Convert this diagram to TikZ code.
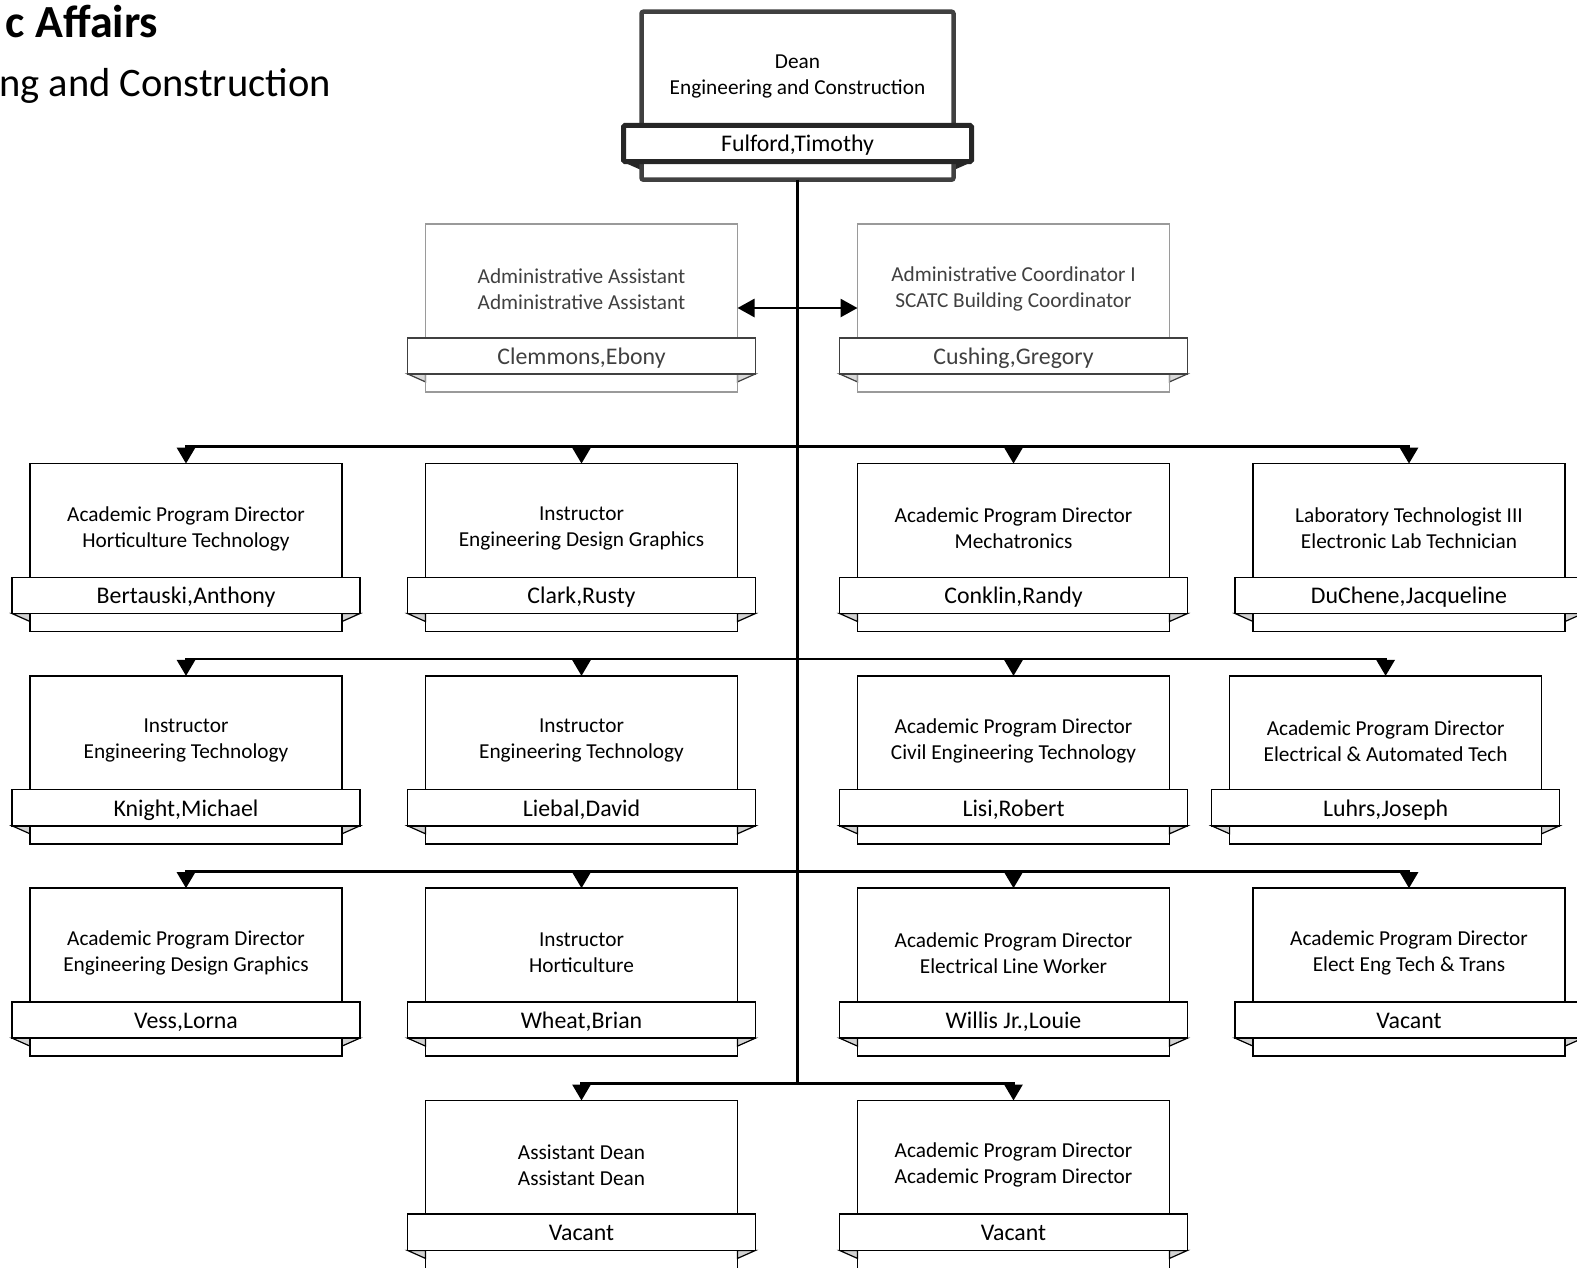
\documentclass[tikz,border=0pt]{standalone}
\usepackage{fontspec}
\setmainfont{Carlito}
\usepackage{tikz}
\usetikzlibrary{arrows.meta,positioning,calc}

\definecolor{asstgray}{HTML}{9A9A9A}
\definecolor{asstdark}{HTML}{404040}
\definecolor{deangray}{HTML}{404040}
\definecolor{deanblack}{HTML}{262626}

\begin{document}
\begin{tikzpicture}[
    x=1pt, y=1pt,
    post/.style={draw, line width=1.6pt, minimum width=312pt, minimum height=129.8pt, inner sep=0pt, outer sep=0pt, align=center, font=\fontsize{21.3}{26}\selectfont},
    fold/.style={draw=black, fill=gray!35, line width=1.2pt},
    tail/.style={draw=black, line width=1.6pt},
    band/.style={draw, fill=white, line width=1.6pt, minimum width=348pt, minimum height=36.2pt, inner sep=0pt, outer sep=0pt,
        text height=16.8pt, text depth=0pt, font=\fontsize{23.85}{26}\selectfont,
        append after command={\pgfextra{
            \draw[fold] (\tikzlastnode.south west) -- ++(18pt,-8pt) -- ++(0,8pt) -- cycle;
            \draw[fold] (\tikzlastnode.south east) -- ++(-18pt,-8pt) -- ++(0,8pt) -- cycle;
            \draw[tail] ([xshift=18pt]\tikzlastnode.south west) -- ++(0,-18.1pt) -| ([xshift=-18pt]\tikzlastnode.south east);
        }}},
    conn/.style={line width=2.8pt, -{Triangle[length=16pt,width=18pt]}},
    link/.style={line width=2.8pt, {Triangle[length=17pt,width=18pt]}-{Triangle[length=17pt,width=18pt]}},
    trunk/.style={line width=3.5pt}
]
    \useasboundingbox (0,0) rectangle (1577,-1267);

    % Heading
    \node[anchor=base east, inner sep=0pt, font=\bfseries\fontsize{46}{54}\selectfont] (head) at (158.5,-37) {c Affairs};
    \node[anchor=base west, inner sep=0pt, font=\fontsize{40.5}{48}\selectfont] (subhead) at (-1,-96.7) {ng and Construction};

    % Dean
    \begin{scope}[fold/.style={draw=deanblack, fill=deanblack, line width=1pt},
                  tail/.style={draw=deangray, line width=4.5pt, rounded corners=2pt}]
        \node[post, anchor=north, draw=deangray, line width=4.5pt, rounded corners=2pt] (dean) at (797.5,-11.7) {Dean\\Engineering and Construction};
        \node[band, below=-16.1pt of dean.south, draw=deanblack, line width=5pt, rounded corners=1.5pt] (deanN) {Fulford,Timothy};
    \end{scope}

    % Staff
    \begin{scope}[fold/.style={draw=asstdark, fill=gray!30, line width=1.2pt},
                  tail/.style={draw=asstgray, line width=1.6pt}]
        \node[post, below=82.5pt of dean, xshift=-216pt, draw=asstgray, text=asstdark] (clemmons) {Administrative Assistant\\Administrative Assistant};
        \node[band, below=-16.1pt of clemmons.south, draw=asstdark, text=asstdark] (clemmonsN) {Clemmons,Ebony};
        \node[post, below=82.5pt of dean, xshift=216pt, draw=asstgray, text=asstdark] (cushing) {Administrative Coordinator I\\SCATC Building Coordinator};
        \node[band, below=-16.1pt of cushing.south, draw=asstdark, text=asstdark] (cushingN) {Cushing,Gregory};
    \end{scope}

    % Row 1
    \node[post, below=109.8pt of clemmons] (clark) {Instructor\\Engineering Design Graphics};
    \node[post, below=109.8pt of cushing] (conklin) {Academic Program Director\\Mechatronics};
    \node[post, left=83.5pt of clark] (bertauski) {Academic Program Director\\Horticulture Technology};
    \node[post, right=83.5pt of conklin] (duchene) {Laboratory Technologist III\\Electronic Lab Technician};
    \node[band, below=-16.1pt of bertauski.south] (bertauskiN) {Bertauski,Anthony};
    \node[band, below=-16.1pt of clark.south] (clarkN) {Clark,Rusty};
    \node[band, below=-16.1pt of conklin.south] (conklinN) {Conklin,Randy};
    \node[band, below=-16.1pt of duchene.south] (ducheneN) {DuChene,Jacqueline};

    % Row 2
    \node[post, below=82.5pt of bertauski] (knight) {Instructor\\Engineering Technology};
    \node[post, below=82.5pt of clark] (liebal) {Instructor\\Engineering Technology};
    \node[post, below=82.5pt of conklin] (lisi) {Academic Program Director\\Civil Engineering Technology};
    \node[post, below=82.5pt of duchene, xshift=-23.4pt] (luhrs) {Academic Program Director\\Electrical \& Automated Tech};
    \node[band, below=-16.1pt of knight.south] (knightN) {Knight,Michael};
    \node[band, below=-16.1pt of liebal.south] (liebalN) {Liebal,David};
    \node[band, below=-16.1pt of lisi.south] (lisiN) {Lisi,Robert};
    \node[band, below=-16.1pt of luhrs.south] (luhrsN) {Luhrs,Joseph};

    % Row 3
    \node[post, below=82.5pt of knight] (vess) {Academic Program Director\\Engineering Design Graphics};
    \node[post, below=82.5pt of liebal] (wheat) {Instructor\\Horticulture};
    \node[post, below=82.5pt of lisi] (willis) {Academic Program Director\\Electrical Line Worker};
    \node[post, below=82.5pt of luhrs, xshift=23.4pt] (eetVacant) {Academic Program Director\\Elect Eng Tech \& Trans};
    \node[band, below=-16.1pt of vess.south] (vessN) {Vess,Lorna};
    \node[band, below=-16.1pt of wheat.south] (wheatN) {Wheat,Brian};
    \node[band, below=-16.1pt of willis.south] (willisN) {Willis Jr.,Louie};
    \node[band, below=-16.1pt of eetVacant.south] (eetVacantN) {Vacant};

    % Row 4
    \node[post, below=82.5pt of wheat] (asstDean) {Assistant Dean\\Assistant Dean};
    \node[post, below=82.5pt of willis] (apdVacant) {Academic Program Director\\Academic Program Director};
    \node[band, below=-16.1pt of asstDean.south] (asstDeanN) {Vacant};
    \node[band, below=-16.1pt of apdVacant.south] (apdVacantN) {Vacant};

    % Bus lines
    \coordinate (bus1) at ($(dean.south |- clark.north)+(0,16.9)$);
    \coordinate (bus2) at ($(dean.south |- liebal.north)+(0,16.9)$);
    \coordinate (bus3) at ($(dean.south |- wheat.north)+(0,16.9)$);
    \coordinate (bus4) at ($(dean.south |- asstDean.north)+(0,16.9)$);

    \draw[link] ([yshift=-19.1pt]clemmons.east) -- ([yshift=-19.1pt]cushing.west);

    \draw[conn] (bus1) -| (bertauski.north);
    \draw[conn] (bus1) -| (clark.north);
    \draw[conn] (bus1) -| (conklin.north);
    \draw[conn] (bus1) -| (duchene.north);

    \draw[conn] (bus2) -| (knight.north);
    \draw[conn] (bus2) -| (liebal.north);
    \draw[conn] (bus2) -| (lisi.north);
    \draw[conn] (bus2) -| (luhrs.north);

    \draw[conn] (bus3) -| (vess.north);
    \draw[conn] (bus3) -| (wheat.north);
    \draw[conn] (bus3) -| (willis.north);
    \draw[conn] (bus3) -| (eetVacant.north);

    \draw[conn] (bus4) -| (asstDean.north);
    \draw[conn] (bus4) -| (apdVacant.north);

    \draw[trunk] ([yshift=-18.1pt]deanN.south) -- (bus4);
\end{tikzpicture}
\end{document}
